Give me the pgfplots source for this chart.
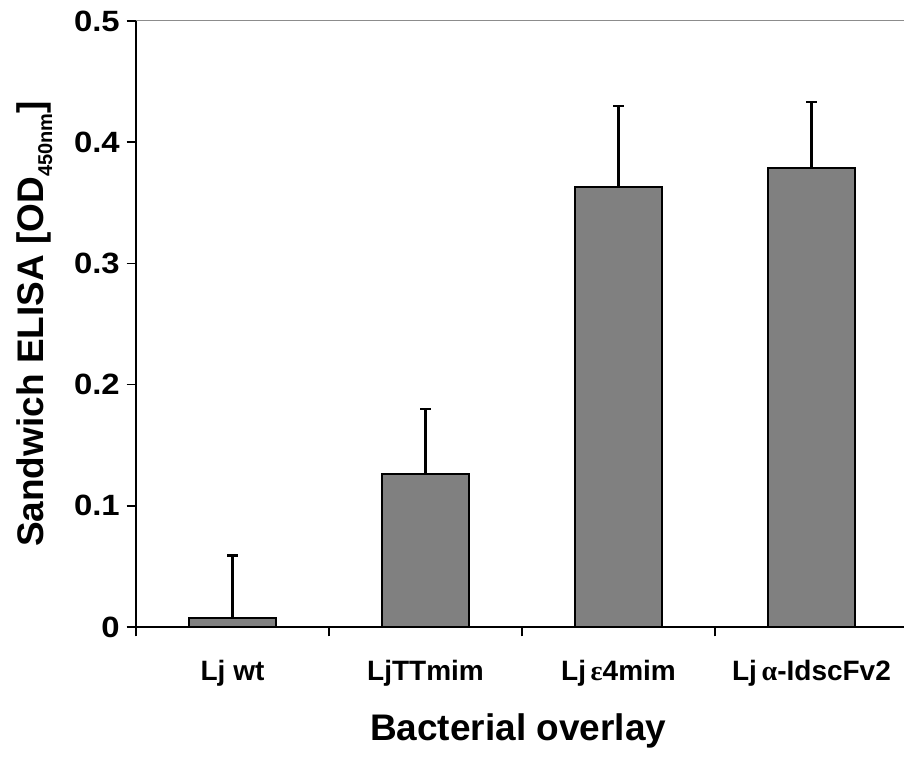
\documentclass[border=0pt]{standalone}
\usepackage{fontspec}
\setmainfont{Liberation Sans}
\newfontfamily\greekfont{Liberation Serif}
% slightly extended bold face for the value axis numbers
\newfontfamily\numfont[FakeStretch=1.12]{Liberation Sans Bold}
\usepackage{pgfplots}
\pgfplotsset{compat=1.18}

\definecolor{barfill}{RGB}{128,128,128}
\definecolor{framegray}{RGB}{140,140,140}

\begin{document}
\begin{tikzpicture}
% page frame: the plot area's lower-left corner sits at the origin
\useasboundingbox (-102pt,-97.5pt) rectangle (576pt,470.25pt);
\begin{axis}[
  at={(0pt,0pt)}, anchor=south west,
  scale only axis, width=579pt, height=454.5pt,
  xmin=0.5, xmax=4.5, ymin=0, ymax=0.5,
  axis x line*=bottom, axis y line*=left,
  axis line style={black, line width=1.2pt},
  tick align=outside, major tick length=7pt,
  tick style={black, line width=1.1pt},
  xtick={0.5,1.5,2.5,3.5,4.5},
  x tick label as interval,
  xticklabels={Lj wt, LjTTmim, {Lj\,{\greekfont ε}4mim}, {Lj\,{\greekfont α}-IdscFv2}},
  xticklabel style={font=\fontsize{21pt}{21pt}\selectfont\bfseries, anchor=base, yshift=-33.5pt},
  ytick={0,0.1,0.2,0.3,0.4,0.5},
  yticklabel={\fontsize{22pt}{22pt}\numfont
    \pgfmathprintnumber[assume math mode=true, fixed]{\tick}},
  yticklabel style={anchor=east, inner xsep=5pt},
  xlabel={Bacterial overlay},
  xlabel style={font=\fontsize{27.75pt}{28pt}\selectfont\bfseries,
    at={(axis description cs:0.495,0)}, anchor=base, yshift=-84.75pt},
  ylabel={Sandwich ELISA [OD\raisebox{-0.22em}{\fontsize{15pt}{15pt}\selectfont 450nm}]},
  ylabel style={font=\fontsize{27.75pt}{28pt}\selectfont\bfseries,
    at={(axis description cs:0,0.5)}, anchor=base, yshift=69pt},
  clip=false,
]
% plot-area border along the top
\draw[framegray, line width=0.75pt] (rel axis cs:0,1) -- (rel axis cs:1,1);

\addplot[ybar, bar width=0.45, fill=barfill, draw=black, line width=1.4pt,
  error bars/.cd, y dir=plus, y explicit,
  error bar style={black, line width=1.6pt},
  error mark options={black, rotate=90, mark size=4pt, line width=1.6pt}]
  coordinates {
    (1,0.0075) +- (0,0.0515)
    (2,0.126)  +- (0,0.054)
    (3,0.363)  +- (0,0.067)
    (4,0.379)  +- (0,0.054)
  };
\end{axis}
\end{tikzpicture}
\end{document}
